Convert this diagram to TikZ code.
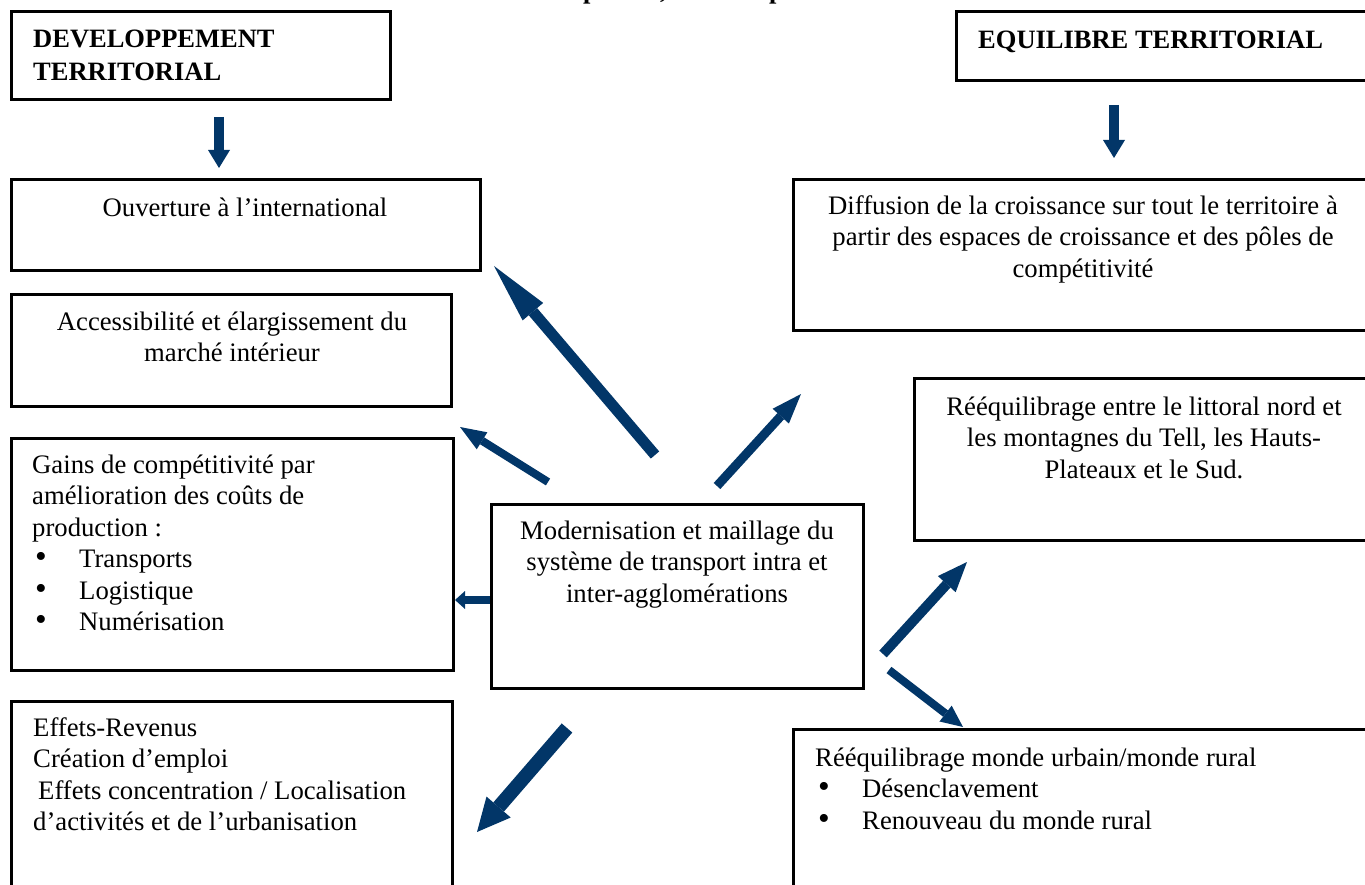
\documentclass[tikz,border=0pt]{standalone}
\usepackage{fontspec}
\setmainfont{Liberation Serif}
\usetikzlibrary{arrows.meta,fit}
\definecolor{navy}{RGB}{2,54,104}
\newcommand{\bulletline}[1]{\makebox[47pt][l]{\hspace{3pt}\scalebox{1.25}{\textbullet}}#1}
\begin{document}
\begin{tikzpicture}[x=1pt,y=-1pt,
  box/.style={draw=black, line width=3.3pt, inner sep=0pt},
  txt/.style={inner sep=0pt, font=\fontsize{26.7}{31.5}\selectfont},
  ctxt/.style={txt, anchor=north, align=center},
  ltxt/.style={txt, anchor=north west, align=left},
  btxt/.style={ltxt, font=\fontsize{26.5}{32.5}\selectfont\bfseries},
  frag/.style={inner sep=0pt, anchor=base west, font=\fontsize{26.5}{31.5}\selectfont\bfseries},
  flow/.style n args={3}{draw=navy, line width=#1, line cap=butt,
    -{Triangle[length=#2, width=#3, line width=0pt]}},
]
\useasboundingbox (0,0) rectangle (1365,885);

% title line running above the top edge
\node[frag] (t1) at (583,-1) {p};
\node[frag] (t2) at (660,-1) {,};
\node[frag] (t3) at (769,-1) {p};

% frames
\node[box, fit={(11.5,11.5) (390.5,99.5)}] (dev) {};
\node[box, fit={(956.5,11.5) (1372,80.5)}] (equ) {};
\node[box, fit={(11.5,179.5) (480.5,270.5)}] (ouv) {};
\node[box, fit={(11.5,294.5) (451.5,406.5)}] (acc) {};
\node[box, fit={(11.5,438.5) (453.5,670.5)}] (gain) {};
\node[box, fit={(11.5,701.5) (452.5,895)}] (eff) {};
\node[box, fit={(491.5,504.5) (863.5,688.5)}] (mod) {};
\node[box, fit={(793.5,179.5) (1372,330.5)}] (dif) {};
\node[box, fit={(914.5,378.5) (1372,540.5)}] (lit) {};
\node[box, fit={(793.5,729.5) (1372,895)}] (urb) {};

% texts
\node[btxt] (devT) at (33,25) {\strut DEVELOPPEMENT\\TERRITORIAL};
\node[btxt] (equT) at (978,26) {\strut EQUILIBRE TERRITORIAL};
\node[ctxt] (ouvT) at (245,194) {\strut Ouverture à l’international};
\node[ctxt] (accT) at (232,308) {\strut Accessibilité et élargissement du\\marché intérieur};
\node[ltxt] (gainT) at (32,451) {\strut Gains de compétitivité par\\amélioration des coûts de\\production :\\
  \bulletline{Transports}\\\bulletline{Logistique}\\\bulletline{Numérisation}};
\node[ltxt] (effT) at (33,714) {\strut Effets-Revenus\\Création d’emploi\\\hspace{5pt}Effets concentration / Localisation\\d’activités et de l’urbanisation};
\node[ctxt] (modT) at (677,517) {\strut Modernisation et maillage du\\système de transport intra et\\inter-agglomérations};
\node[ctxt] (difT) at (1083,192) {\strut Diffusion de la croissance sur tout le territoire à\\partir des espaces de croissance et des pôles de\\compétitivité};
\node[ctxt] (litT) at (1144,393) {\strut Rééquilibrage entre le littoral nord et\\les montagnes du Tell, les Hauts-\\Plateaux et le Sud.};
\node[ltxt] (urbT) at (815,744) {\strut Rééquilibrage monde urbain/monde rural\\
  \bulletline{Désenclavement}\\\bulletline{Renouveau du monde rural}};

% arrow ends
\coordinate (a1s) at (219,117);  \coordinate (a1e) at (219,168);
\coordinate (a2s) at (1114,105); \coordinate (a2e) at (1114,158);
\coordinate (a3s) at (655,455);  \coordinate (a3e) at (494,266);
\coordinate (a4s) at (548,482);  \coordinate (a4e) at (460,427);
\coordinate (a5s) at (717,486);  \coordinate (a5e) at (801,394);
\coordinate (a6s) at (490,600);  \coordinate (a6e) at (455,600);
\coordinate (a7s) at (567,728);  \coordinate (a7e) at (477,832);
\coordinate (a8s) at (883,654);  \coordinate (a8e) at (967,562);
\coordinate (a9s) at (889,670);  \coordinate (a9e) at (963,727);

% arrows
\draw[flow={10pt}{18pt}{22pt}] (a1s) -- (a1e);
\draw[flow={10pt}{18pt}{22pt}] (a2s) -- (a2e);
\draw[flow={11pt}{60pt}{27pt}] (a3s) -- (a3e);
\draw[flow={8pt}{26pt}{20pt}] (a4s) -- (a4e);
\draw[flow={9pt}{30pt}{22pt}] (a5s) -- (a5e);
\draw[flow={8pt}{10pt}{18pt}] (a6s) -- (a6e);
\draw[flow={14pt}{33pt}{32pt}] (a7s) -- (a7e);
\draw[flow={10pt}{30pt}{24pt}] (a8s) -- (a8e);
\draw[flow={8pt}{22pt}{20pt}] (a9s) -- (a9e);
\end{tikzpicture}
\end{document}
